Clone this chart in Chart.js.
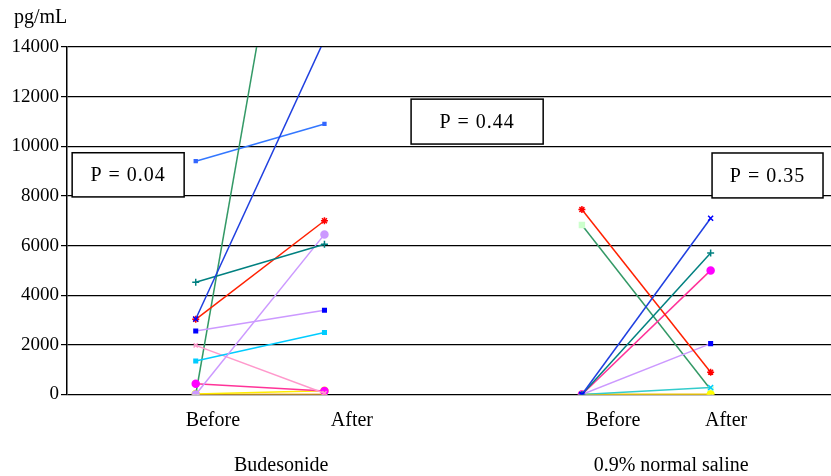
<!DOCTYPE html>
<html>
<head>
<meta charset="utf-8">
<script src="https://cdn.jsdelivr.net/npm/chart.js@4"></script>
<style>
  html, body { margin: 0; padding: 0; background: #fff; }
  #wrap { width: 831px; height: 476px; }
</style>
</head>
<body>
<div id="wrap"><canvas id="chart" width="831" height="476"></canvas></div>
<script>
// Values (pg/mL)
const phaseLabels = ['Before', 'After', 'Before', 'After'];
const groupLabels = ['Budesonide', '0.9% normal saline'];
const pValues = ['P = 0.04', 'P = 0.44', 'P = 0.35'];
const yUnit = 'pg/mL';
const yTicks = [0, 2000, 4000, 6000, 8000, 10000, 12000, 14000];

const budesonideBefore = [3040, 4520, 3030, 0, 2560, 1350, 1980, 430, 0, 9400, 20, 0, 0];
const budesonideAfter = [14300, 6050, 7000, 6450, 3390, 2500, 50, 140, 29600, 10900, 150, 0, 0];
const salineBefore = [0, 0, 7450, 0, 0, 0, 0, 6830, 0, 0];
const salineAfter = [7100, 5700, 900, 2050, 280, 5000, 0, 200, 0, 0];

// Series styles: [line colour, marker colour, marker shape, marker radius]
const budesonideStyles = [
  ['#1f3fe0', '#0000ff', 'crossRot', 3.5],
  ['#008080', '#008080', 'cross', 3.5],
  ['#ff2000', '#ff0000', 'star', 3.5],
  ['#cc99ff', '#cc99ff', 'circle', 3.5],
  ['#cc99ff', '#0000ff', 'rect', 2.5],
  ['#00ccff', '#00ccff', 'rect', 2.5],
  ['#ff99cc', '#ff99cc', 'crossRot', 3],
  ['#ff3399', '#ff00ff', 'circle', 3.5],
  ['#339966', '#ccffcc', 'rect', 3.5],
  ['#3377ff', '#3366ff', 'rect', 2],
  ['#ffee00', '#ffff00', 'circle', 3.5],
  ['#ff9900', '#ffcc99', 'rect', 3],
  ['#cccc99', '#ccffcc', 'rect', 3.5]
];
const salineStyles = [
  ['#1f3fe0', '#0000ff', 'crossRot', 3.5],
  ['#008080', '#008080', 'cross', 3.5],
  ['#ff2000', '#ff0000', 'star', 3.5],
  ['#cc99ff', '#0000ff', 'rect', 2.5],
  ['#33cccc', '#00ccff', 'crossRot', 3.5],
  ['#ff3399', '#ff00ff', 'circle', 3.5],
  ['#ffee00', '#ffff00', 'circle', 3.5],
  ['#339966', '#ccffcc', 'rect', 3.5],
  ['#ff9900', '#ffcc99', 'rect', 3],
  ['#cccc99', '#ccffcc', 'rect', 3.5]
];

// Layout: where the labels and P boxes sit on the x scale (0..xMax)
const xMax = 5.935;
const phaseTickPos = [1.133, 2.213, 4.242, 5.120];
const groupTickPos = [1.664, 4.693];
const pBoxes = [
  { x0: 0.04, x1: 0.91, y0: 7960, y1: 9740 },
  { x0: 2.673, x1: 3.699, y0: 10090, y1: 11900 },
  { x0: 5.011, x1: 5.873, y0: 7920, y1: 9730 }
];

const serif = '"Liberation Serif", "DejaVu Serif", serif';
const font = { family: serif, size: 19 };
const labelFont = { family: serif, size: 20 };

function makeSeries(before, after, styles, xBefore) {
  return before.map((b, i) => {
    const [line, mark, shape, r] = styles[i];
    return {
      data: [{ x: xBefore, y: b }, { x: xBefore + 1, y: after[i] }],
      borderColor: line,
      borderWidth: 1.5,
      pointStyle: shape,
      pointRadius: r,
      pointBackgroundColor: mark,
      pointBorderColor: mark,
      pointBorderWidth: 1.5,
      tension: 0
    };
  });
}

const datasets = [
  ...makeSeries(budesonideBefore, budesonideAfter, budesonideStyles, 1),
  ...makeSeries(salineBefore, salineAfter, salineStyles, 4)
];

// P value boxes and the unit label
const overlay = {
  id: 'overlay',
  afterDraw(chart) {
    const { ctx, scales: { x, y } } = chart;
    ctx.save();
    ctx.font = '20px ' + serif;
    ctx.textAlign = 'center';
    ctx.textBaseline = 'middle';
    ctx.letterSpacing = '1px';
    pBoxes.forEach((b, i) => {
      const l = x.getPixelForValue(b.x0), r = x.getPixelForValue(b.x1);
      const t = y.getPixelForValue(b.y1), bt = y.getPixelForValue(b.y0);
      ctx.fillStyle = '#fff';
      ctx.fillRect(l, t, r - l, bt - t);
      ctx.lineWidth = 1.5;
      ctx.strokeStyle = '#000';
      ctx.strokeRect(l, t, r - l, bt - t);
      ctx.fillStyle = '#000';
      ctx.fillText(pValues[i], (l + r) / 2, (t + bt) / 2 + 1);
    });
    ctx.letterSpacing = '0px';
    ctx.textAlign = 'left';
    ctx.fillText(yUnit, 14, 18);
    ctx.restore();
  }
};

function labelAxis(positions, labels, height, pad) {
  return {
    type: 'linear',
    position: 'bottom',
    min: 0,
    max: xMax,
    grid: { display: false, drawTicks: false },
    border: { display: false },
    afterBuildTicks: axis => { axis.ticks = positions.map(v => ({ value: v })); },
    afterFit: axis => { axis.height = height; },
    ticks: {
      callback: (v, i) => labels[i],
      autoSkip: false,
      maxRotation: 0,
      padding: pad,
      color: '#000',
      font: labelFont
    }
  };
}

new Chart(document.getElementById('chart'), {
  type: 'line',
  data: { datasets: datasets },
  plugins: [overlay],
  options: {
    responsive: false,
    animation: false,
    layout: { autoPadding: false, padding: { top: 47, right: 0, bottom: 0, left: 0 } },
    plugins: { legend: { display: false }, tooltip: { enabled: false } },
    scales: {
      x: labelAxis(phaseTickPos, phaseLabels, 45, 14),
      x2: labelAxis(groupTickPos, groupLabels, 36.5, 14),
      y: {
        min: 0,
        max: 14000,
        afterBuildTicks: axis => { axis.ticks = yTicks.map(v => ({ value: v })); },
        afterFit: axis => { axis.width = 67; },
        grid: { color: '#000', lineWidth: 1.2, tickLength: 6 },
        border: { color: '#000', width: 1.5 },
        ticks: { padding: 2, color: '#000', font: font, callback: v => String(v) }
      }
    }
  }
});
</script>
</body>
</html>
